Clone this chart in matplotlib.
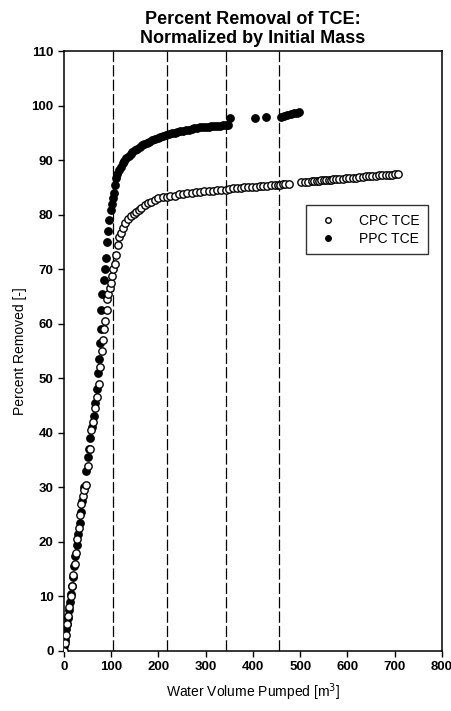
import matplotlib
matplotlib.use('Agg')
import matplotlib.pyplot as plt

plt.rcParams['font.family'] = ['Liberation Sans', 'DejaVu Sans']

# PPC TCE (filled)
ppc_x = [0, 1, 2, 3, 5, 6, 8, 10, 12, 15, 17, 19, 22, 24, 27, 30, 33, 36, 39, 42,
         46, 50, 53, 56, 60, 63, 66, 69, 72, 74, 76, 78, 79, 81, 84, 87, 89, 91, 93, 95,
         99, 101, 104, 106, 108, 110, 113, 116, 120, 124, 128, 132, 137, 141, 145, 150,
         155, 160, 165, 170, 175, 180, 186, 192, 198, 204, 210, 216, 222, 228, 234, 240,
         246, 252, 258, 264, 270, 276, 282, 288, 294, 300, 306, 312, 318, 324, 330, 336,
         342, 348, 352, 404, 427, 459, 466, 473, 480, 487, 493, 497]
ppc_y = [0, 1, 2, 3, 4, 5, 6, 7.5, 9, 10.5, 12, 13.5, 15.5, 17.5, 19.5, 21.5, 23.5, 25.5, 27.5, 30,
         33, 35.5, 37, 39, 41, 43, 45.5, 48, 51, 53.5, 56.5, 59, 62.5, 65.5, 68, 70, 72, 75, 77, 79,
         80.8, 82, 83, 84, 85.5, 86.7, 87.5, 88.2, 88.8, 89.4, 89.9, 90.3, 90.7, 91.1, 91.4, 91.8,
         92.1, 92.4, 92.7, 93.0, 93.2, 93.4, 93.6, 93.8, 94.0, 94.2, 94.4, 94.6, 94.7, 94.9, 95.0, 95.2,
         95.3, 95.4, 95.5, 95.6, 95.7, 95.8, 95.9, 96.0, 96.0, 96.1, 96.1, 96.2, 96.2, 96.3, 96.3, 96.4,
         96.4, 96.5, 97.8, 97.7, 97.9, 97.9, 98.1, 98.3, 98.4, 98.6, 98.7, 98.8]

# CPC TCE (open)
cpc_x = [0, 2, 4, 6, 9, 11, 14, 17, 20, 23, 25, 28, 31, 34, 37, 40, 43, 46, 50, 54,
         58, 62, 66, 70, 74, 77, 80, 82, 84, 87, 90, 92, 94, 97, 100, 102, 104, 107, 110, 114,
         117, 121, 125, 130, 136, 142, 148, 153, 158, 164, 171, 178, 185, 192, 200, 210, 217, 225,
         234, 243, 252, 261, 270, 279, 288, 297, 306, 315, 324, 333, 342, 350, 358, 366, 374, 382,
         390, 398, 406, 414, 422, 430, 438, 446, 452, 458, 463, 468, 476,
         502, 510, 517, 524, 530, 535, 540, 545, 550, 555, 560, 565, 570, 576, 583, 590, 597, 604,
         611, 618, 625, 632, 639, 646, 653, 660, 667, 674, 681, 688, 695, 701, 707]
cpc_y = [0, 1.5, 3, 5, 6.5, 8, 10, 12, 14, 16, 18, 20.5, 22.5, 25, 27, 28.5, 29.5, 30.5, 34, 37,
         40.5, 42, 44.5, 46.5, 49, 52, 55, 57, 59, 60.5, 62.5, 64.5, 65.5, 66.5, 67.5, 68.8, 70, 71, 72.6, 74.4,
         75.9, 76.6, 77.5, 78.5, 79.2, 79.7, 80.2, 80.5, 80.9, 81.2, 81.7, 82.1, 82.4, 82.7, 83.0, 83.2, 83.3, 83.4,
         83.5, 83.7, 83.8, 83.9, 84.0, 84.1, 84.2, 84.3, 84.4, 84.4, 84.5, 84.6, 84.6, 84.7, 84.8, 84.8, 84.9, 85.0,
         85.0, 85.1, 85.1, 85.2, 85.3, 85.3, 85.4, 85.4, 85.5, 85.5, 85.6, 85.6, 85.7,
         85.9, 86.0, 86.0, 86.1, 86.1, 86.2, 86.2, 86.3, 86.3, 86.3, 86.4, 86.4, 86.5, 86.5, 86.6, 86.6, 86.7, 86.7,
         86.8, 86.8, 86.9, 86.9, 87.0, 87.0, 87.1, 87.1, 87.2, 87.2, 87.2, 87.3, 87.3, 87.4, 87.4]

# dashed vertical markers
vlines_x = [103, 217, 342, 455]

xticks = list(range(0, 801, 100))
yticks = list(range(0, 111, 10))

fig = plt.figure(figsize=(4.52, 7.11), dpi=100)
ax = fig.add_axes([0.1416, 0.0844, 0.836, 0.8438])

for xv in vlines_x:
    ax.axvline(xv, color='black', lw=0.9, ls=(0, (9, 2.5)), zorder=1)

ax.plot(cpc_x, cpc_y, 'o', ms=5.3, mfc='white', mec='black', mew=1.0,
        label='CPC TCE', zorder=3)
ax.plot(ppc_x, ppc_y, 'o', ms=5.3, mfc='black', mec='black', mew=1.0,
        label='PPC TCE', zorder=2)

ax.set_xlim(0, 800)
ax.set_ylim(0, 110)
ax.set_xticks(xticks)
ax.set_yticks(yticks)
ax.tick_params(direction='out', length=4, width=1, labelsize=9.5)
for lab in ax.get_xticklabels() + ax.get_yticklabels():
    lab.set_fontweight('bold')
for sp in ax.spines.values():
    sp.set_linewidth(1.1)

ax.set_xlabel('Water Volume Pumped [m$^3$]', fontsize=10, labelpad=6)
ax.set_ylabel('Percent Removed [-]', fontsize=10, labelpad=3)
ax.set_title('Percent Removal of TCE:\nNormalized by Initial Mass',
             fontsize=13, fontweight='bold', pad=6, linespacing=1.1)

leg = ax.legend(loc='upper right', bbox_to_anchor=(0.963, 0.743), fontsize=10,
                frameon=True, fancybox=False, edgecolor='black', markerscale=0.75,
                handletextpad=1.2, borderpad=0.6, labelspacing=0.3, borderaxespad=0)
leg.get_frame().set_linewidth(1.0)

fig.savefig('out.png', dpi=100)
